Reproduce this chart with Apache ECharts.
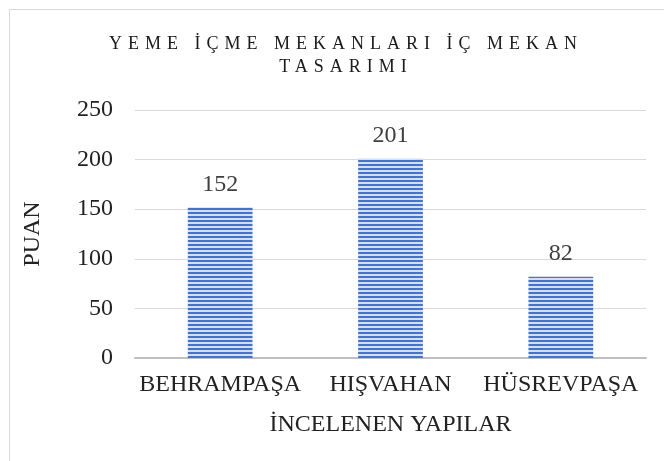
<!DOCTYPE html>
<html>
<head>
<meta charset="utf-8">
<script src="https://cdn.jsdelivr.net/npm/echarts@6/dist/echarts.min.js"></script>
<style>
  html, body { margin: 0; padding: 0; background: #fff; }
  #wrap { position: relative; width: 664px; height: 461px; overflow: hidden; }
  #chart { position: absolute; left: 0; top: 0; width: 664px; height: 461px; }
  #title {
    position: absolute; left: 0; top: 32px; width: 692px; text-align: center;
    font-family: "Liberation Serif", "DejaVu Serif", serif; font-size: 18px;
    letter-spacing: 6px; line-height: 23px; color: #1a1a1a; pointer-events: none;
  }
</style>
</head>
<body>
<div id="wrap">
  <div id="chart"></div>
  <div id="title">YEME İÇME MEKANLARI İÇ MEKAN<br>TASARIMI</div>
</div>
<script>
const categories = ['BEHRAMPAŞA', 'HIŞVAHAN', 'HÜSREVPAŞA'];
const scores = [152, 201, 82];
const yTicks = [0, 50, 100, 150, 200, 250];
const xAxisTitle = 'İNCELENEN YAPILAR';
const yAxisTitle = 'PUAN';

// Horizontal stripe fill for the bars
function stripeFill() {
  const c = document.createElement('canvas');
  c.width = 4; c.height = 4;
  const ctx = c.getContext('2d');
  ctx.fillStyle = '#d3def3';
  ctx.fillRect(0, 0, 4, 4);
  ctx.fillStyle = '#4673c6';
  ctx.fillRect(0, 0, 4, 2);
  return { image: c, repeat: 'repeat' };
}

const serif = '"Liberation Serif", "DejaVu Serif", serif';
const chart = echarts.init(document.getElementById('chart'), null, { renderer: 'canvas' });

chart.setOption({
  animation: false,
  backgroundColor: '#fff',
  graphic: [{
    type: 'rect',
    shape: { x: 9.5, y: 9.5, width: 800, height: 600 },
    style: { fill: 'none', stroke: '#d9d9d9', lineWidth: 1 },
    silent: true
  }],
  grid: { left: 135, right: 18, top: 110, bottom: 103, containLabel: false },
  xAxis: {
    type: 'category',
    data: categories,
    name: xAxisTitle,
    nameLocation: 'middle',
    nameGap: 55,
    nameTextStyle: { fontFamily: serif, fontSize: 24, color: '#222' },
    axisTick: { show: false },
    axisLine: { lineStyle: { color: '#bfbfbf', width: 2 } },
    axisLabel: { interval: 0, fontFamily: serif, fontSize: 24, color: '#222', margin: 15 }
  },
  yAxis: {
    type: 'value',
    min: yTicks[0],
    max: yTicks[yTicks.length - 1],
    interval: yTicks[1] - yTicks[0],
    name: yAxisTitle,
    nameLocation: 'middle',
    nameGap: 90,
    nameRotate: 90,
    nameTextStyle: { fontFamily: serif, fontSize: 24, color: '#222' },
    axisLine: { show: false },
    axisTick: { show: false },
    splitLine: { lineStyle: { color: '#d9d9d9', width: 1 } },
    axisLabel: { fontFamily: serif, fontSize: 24, color: '#222', margin: 22 }
  },
  series: [{
    type: 'bar',
    data: scores,
    barWidth: '38%',
    itemStyle: { color: stripeFill() },
    label: {
      show: true,
      position: 'top',
      distance: 11,
      fontFamily: serif,
      fontSize: 24,
      color: '#404040'
    }
  }]
});
</script>
</body>
</html>
